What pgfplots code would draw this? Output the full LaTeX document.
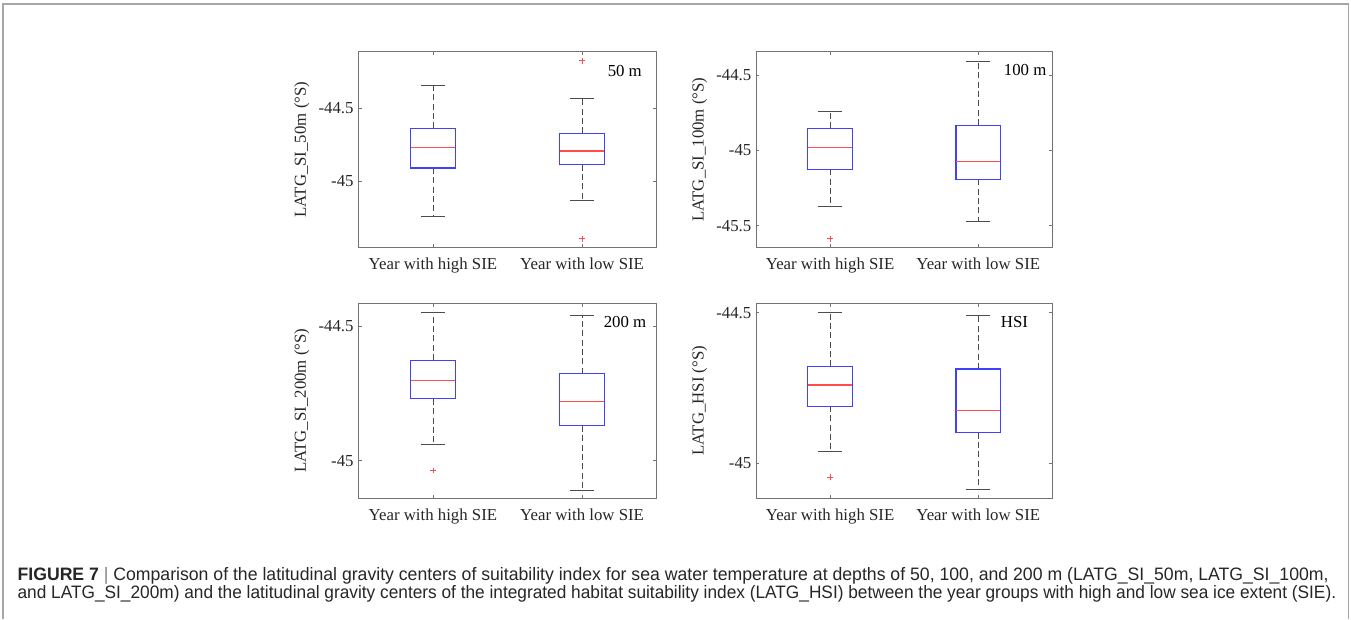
\documentclass[border=0pt]{standalone}
\usepackage{fontspec}
\setmainfont{Liberation Serif}
\newfontfamily\capfont{Liberation Sans}
\usepackage{graphicx}
\usepackage{pgfplots}
\pgfplotsset{compat=1.18}
\usepgfplotslibrary{statistics}

\definecolor{axgray}{gray}{0.45}
\definecolor{txtgray}{gray}{0.15}
\definecolor{framegray}{gray}{0.65}
\definecolor{mblue}{rgb}{0.25,0.25,1}
\definecolor{mred}{rgb}{1,0.3,0.3}
\definecolor{whisk}{gray}{0.3}

\tikzset{tag/.style={anchor=east, inner sep=0pt, font=\fontsize{12.6}{14}\selectfont, text=black}}

\pgfplotsset{
  panel/.style={
    scale only axis,
    xmin=0.5, xmax=2.5,
    xtick={1,2},
    xticklabels={Year with high SIE, Year with low SIE},
    tick align=inside,
    major tick length=2.5pt,
    axis line style={axgray, line width=0.6pt},
    tick style={axgray, line width=0.6pt},
    tick label style={font=\fontsize{12.6}{14}\selectfont, text=txtgray},
    label style={font=\fontsize{12.6}{14}\selectfont, text=txtgray},
    xticklabel style={yshift=-4pt},
    boxplot/draw direction=y,
    boxplot/box extend=0.30,
    boxplot/whisker extend=0.16,
    boxplot/every box/.style={draw=mblue, line width=0.8pt},
    boxplot/every median/.style={draw=mred, line width=0.8pt},
    boxplot/draw/lower whisker/.code={%
      \draw[whisk, line width=0.6pt, dash pattern=on 4.5pt off 2.5pt]
        (boxplot box cs:\pgfplotsboxplotvalue{lower quartile},0.5) --
        (boxplot box cs:\pgfplotsboxplotvalue{lower whisker},0.5);
      \draw[whisk, line width=0.6pt]
        (boxplot whisker cs:\pgfplotsboxplotvalue{lower whisker},0) --
        (boxplot whisker cs:\pgfplotsboxplotvalue{lower whisker},1);
    },
    boxplot/draw/upper whisker/.code={%
      \draw[whisk, line width=0.6pt, dash pattern=on 4.5pt off 2.5pt]
        (boxplot box cs:\pgfplotsboxplotvalue{upper quartile},0.5) --
        (boxplot box cs:\pgfplotsboxplotvalue{upper whisker},0.5);
      \draw[whisk, line width=0.6pt]
        (boxplot whisker cs:\pgfplotsboxplotvalue{upper whisker},0) --
        (boxplot whisker cs:\pgfplotsboxplotvalue{upper whisker},1);
    },
  },
  bp/.style={draw=mblue, mark=+, mark size=2.2pt,
    mark options={draw=mred, line width=0.6pt, solid}},
}

\begin{document}
\begin{tikzpicture}
\useasboundingbox (0,0) rectangle (1013.25pt,464.25pt);
% outer frame (open at bottom)
\draw[framegray, line width=1.1pt] (2.25pt,0) -- (2.25pt,461.25pt) -- (1011.2pt,461.25pt) -- (1011.2pt,0);

% ---------- 50 m ----------
\begin{axis}[panel, at={(268.725pt,278.475pt)}, anchor=south west,
  width=223.8pt, height=147pt,
  ymin=-45.459, ymax=-44.111,
  ytick={-45,-44.5}, yticklabels={-45,-44.5},
  ylabel={LATG\_SI\_50m (°S)}]
\addplot[bp, boxplot prepared={draw position=1,
  lower whisker=-45.243, lower quartile=-44.911, median=-44.771,
  upper quartile=-44.638, upper whisker=-44.342}] coordinates {};
\addplot[bp, boxplot prepared={draw position=2,
  lower whisker=-45.133, lower quartile=-44.888, median=-44.794,
  upper quartile=-44.672, upper whisker=-44.431}] coordinates {(2,-44.173) (2,-45.397)};
\node[tag] at (rel axis cs:0.951,0.903) {50 m};
\end{axis}

% ---------- 100 m ----------
\begin{axis}[panel, at={(567pt,278.475pt)}, anchor=south west,
  width=222.2pt, height=147pt,
  ymin=-45.646, ymax=-44.345,
  ytick={-45.5,-45,-44.5}, yticklabels={-45.5,-45,-44.5},
  ylabel={LATG\_SI\_100m (°S)}]
\addplot[bp, boxplot prepared={draw position=1,
  lower whisker=-45.369, lower quartile=-45.126, median=-44.980,
  upper quartile=-44.854, upper whisker=-44.741}] coordinates {(1,-45.586)};
\addplot[bp, boxplot prepared={draw position=2,
  lower whisker=-45.473, lower quartile=-45.192, median=-45.071,
  upper quartile=-44.832, upper whisker=-44.407}] coordinates {};
\node[tag] at (rel axis cs:0.981,0.907) {100 m};
\end{axis}

% ---------- 200 m ----------
\begin{axis}[panel, at={(268.725pt,90.525pt)}, anchor=south west,
  width=223.8pt, height=146.25pt,
  ymin=-45.140, ymax=-44.416,
  ytick={-45,-44.5}, yticklabels={-45,-44.5},
  ylabel={LATG\_SI\_200m (°S)}]
\addplot[bp, boxplot prepared={draw position=1,
  lower whisker=-44.938, lower quartile=-44.771, median=-44.703,
  upper quartile=-44.627, upper whisker=-44.449}] coordinates {(1,-45.037)};
\addplot[bp, boxplot prepared={draw position=2,
  lower whisker=-45.109, lower quartile=-44.871, median=-44.781,
  upper quartile=-44.677, upper whisker=-44.460}] coordinates {};
\node[tag] at (rel axis cs:0.966,0.906) {200 m};
\end{axis}

% ---------- HSI ----------
\begin{axis}[panel, at={(567pt,90.525pt)}, anchor=south west,
  width=222.2pt, height=146.25pt,
  ymin=-45.116, ymax=-44.469,
  ytick={-45,-44.5}, yticklabels={-45,-44.5},
  ylabel={LATG\_HSI (°S)}]
\addplot[bp, boxplot prepared={draw position=1,
  lower whisker=-44.959, lower quartile=-44.810, median=-44.740,
  upper quartile=-44.678, upper whisker=-44.500}] coordinates {(1,-45.045)};
\addplot[bp, boxplot prepared={draw position=2,
  lower whisker=-45.087, lower quartile=-44.898, median=-44.826,
  upper quartile=-44.687, upper whisker=-44.509}] coordinates {};
\node[tag] at (rel axis cs:0.919,0.906) {HSI};
\end{axis}

% ---------- caption ----------
\node[anchor=base west, inner sep=0pt, text=txtgray] at (12.98pt,28.7pt)
  {\resizebox{983.3pt}{\height}{\capfont\fontsize{13.5}{15}\selectfont\textbf{FIGURE 7} {\color{gray}|} Comparison of the latitudinal gravity centers of suitability index for sea water temperature at depths of 50, 100, and 200 m (LATG\_SI\_50m, LATG\_SI\_100m,}};
\node[anchor=base west, inner sep=0pt, text=txtgray] at (12.98pt,15.5pt)
  {\resizebox{989pt}{\height}{\capfont\fontsize{13.5}{15}\selectfont and LATG\_SI\_200m) and the latitudinal gravity centers of the integrated habitat suitability index (LATG\_HSI) between the year groups with high and low sea ice extent (SIE).}};
\end{tikzpicture}
\end{document}
